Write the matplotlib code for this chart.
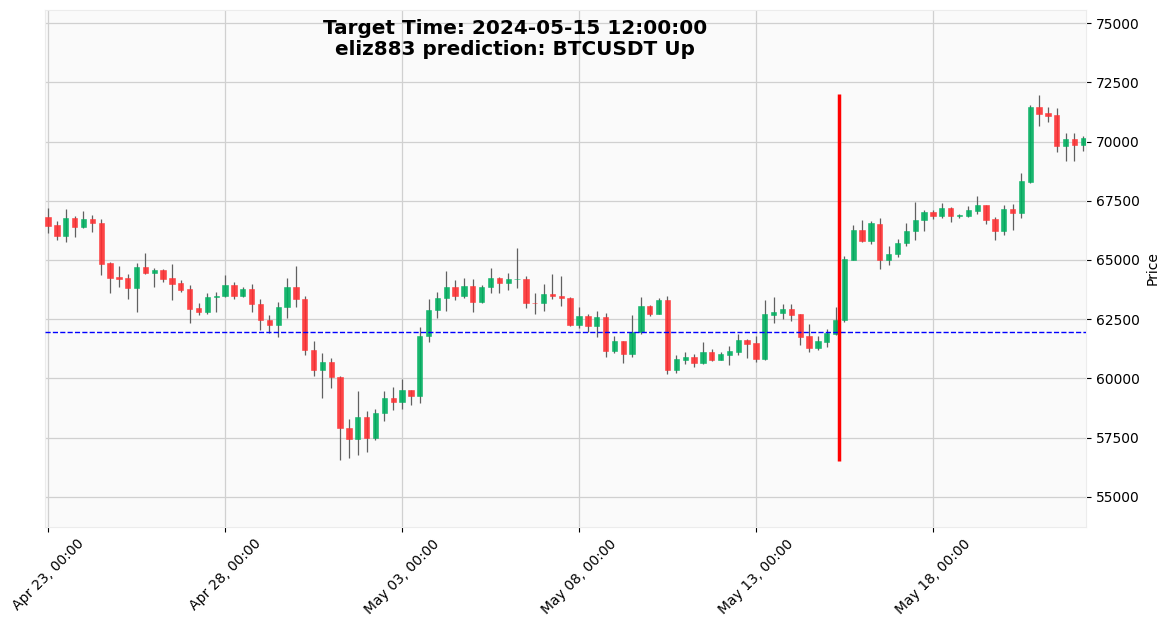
#!/usr/bin/env python3

import numpy as np
import pandas as pd
import matplotlib
matplotlib.use("Agg")
import matplotlib.pyplot as plt

OUTPUT_FNAME = "out.png"

title = "Target Time: 2024-05-15 12:00:00\neliz883 prediction: BTCUSDT Up"
start_time = "2024-04-23 00:00"

opens = [
    66822, 66483, 66031, 66780, 66413, 66738, 66568, 64874, 64281, 64238,
    63829, 64704, 64464, 64577, 64238, 64027, 63772, 62967, 62812, 63420,
    63466, 63959, 63466, 63790, 63157, 62481, 62242, 63002, 63874, 63368,
    61215, 60343, 60709, 60075, 57923, 57430, 58387, 57473, 58528, 59156,
    59016, 59508, 59269, 61771, 62871, 63379, 63872, 63463, 63914, 63209,
    63844, 64253, 64013, 64189, 64210, 63188, 63167, 63576, 63488, 63404,
    62274, 62641, 62232, 62585, 61173, 61582, 61046, 61949, 63065, 62740,
    63305, 60368, 60791, 60890, 60664, 61116, 60791, 61010, 61123, 61618,
    61477, 60826, 62694, 62778, 62934, 62722, 61788, 61264, 61547, 61887,
    62453, 65014, 66245, 65792, 66528, 64986, 65241, 65702, 66206, 66668,
    67032, 66836, 67200, 66836, 66864, 67074, 67312, 66738, 66234, 67144,
    66962, 68306, 71442, 71190, 71106, 69818, 70126, 69874,
]
highs = [
    67189, 66653, 67147, 66865, 67062, 66907, 66723, 64916, 64732, 64394,
    64860, 65297, 64648, 64605, 64831, 64154, 63942, 63165, 63617, 63631,
    64381, 64071, 63860, 63987, 63354, 62664, 63227, 64240, 64747, 63466,
    61581, 61074, 60863, 60118, 58289, 59470, 58640, 58725, 59470, 59620,
    59986, 59520, 62179, 63364, 63632, 64549, 64168, 64239, 64210, 63957,
    64662, 64300, 64464, 65508, 64337, 63604, 63985, 64408, 64336, 63420,
    63008, 62726, 62839, 62754, 61780, 61600, 62669, 63432, 63121, 63404,
    63488, 60975, 61116, 61032, 61540, 61243, 61116, 61363, 61859, 61646,
    61788, 63330, 63429, 63160, 63132, 62740, 62297, 61788, 62085, 63005,
    65170, 66457, 66698, 66627, 66783, 65580, 65891, 66556, 67438, 67130,
    67130, 67410, 67256, 66934, 67270, 67704, 67330, 66794, 67312, 67368,
    68656, 71526, 71974, 71470, 71428, 70378, 70350, 70252,
]
lows = [
    66159, 65834, 65749, 65961, 66370, 66201, 64351, 63589, 63843, 63349,
    62784, 64422, 63871, 64055, 63293, 63659, 62360, 62657, 62727, 62784,
    63440, 63354, 63424, 62805, 62059, 61919, 61750, 62552, 63002, 60976,
    60090, 59175, 59583, 56572, 56642, 56783, 56882, 57388, 58190, 58664,
    58692, 58875, 58974, 61547, 62533, 62843, 63294, 63378, 62800, 63181,
    63590, 63590, 63717, 63802, 62955, 62716, 62857, 63350, 63065, 62232,
    62119, 61978, 61738, 60890, 61060, 60636, 60890, 61865, 62641, 62720,
    60170, 60227, 60622, 60467, 60622, 60721, 60777, 60585, 61010, 60882,
    60698, 60797, 62326, 62524, 62425, 61392, 61123, 61194, 61321, 61816,
    62396, 64986, 65750, 65665, 64618, 64802, 65113, 65590, 65828, 66206,
    66738, 66766, 66598, 66766, 66822, 66934, 66500, 65842, 66038, 66262,
    66766, 68250, 70672, 70840, 69538, 69160, 69160, 69594,
]
closes = [
    66455, 66031, 66780, 66413, 66738, 66540, 64845, 64252, 64210, 63829,
    64690, 64464, 64577, 64210, 63998, 63730, 62939, 62812, 63433, 63480,
    63959, 63466, 63790, 63129, 62453, 62242, 63030, 63874, 63354, 61187,
    60343, 60709, 60047, 57895, 57430, 58387, 57473, 58556, 59170, 59016,
    59508, 59269, 61786, 62899, 63407, 63872, 63463, 63914, 63209, 63872,
    64253, 64013, 64210, 64203, 63167, 63174, 63576, 63463, 63375, 62274,
    62641, 62232, 62585, 61173, 61582, 61046, 61949, 63065, 62740, 63305,
    60368, 60820, 60890, 60664, 61116, 60791, 61032, 61151, 61618, 61448,
    60826, 62722, 62807, 62934, 62694, 61760, 61293, 61576, 61915, 62481,
    65042, 66245, 65792, 66557, 64986, 65269, 65736, 66234, 66696, 67032,
    66836, 67200, 66836, 66906, 67102, 67312, 66696, 66234, 67144, 66962,
    68334, 71442, 71162, 71078, 69818, 70126, 69874, 70168,
]

# prediction markers
entry_price = 61950
target_pos = 89.4
target_span = (56500, 72000)

yticks = np.arange(55000, 75001, 2500)


def plot():
    times = pd.date_range(start_time, periods=len(opens), freq="6h")
    o = np.array(opens)
    h = np.array(highs)
    l = np.array(lows)
    c = np.array(closes)
    idx = np.arange(len(o))

    fig = plt.figure(figsize=(11.69, 6.27), dpi=100)
    ax = fig.add_axes([0.0385, 0.1595, 0.8905, 0.8245])
    ax.set_facecolor("#fafafa")

    up = c >= o
    colors = np.where(up, "#00b060", "#fe3032")

    ax.vlines(idx, l, h, color="#606060", lw=0.9, zorder=2)
    ax.bar(idx, np.maximum(np.abs(c - o), 1), 0.6, bottom=np.minimum(o, c),
           color=colors, edgecolor=colors, linewidth=0.4, alpha=0.9, zorder=3)

    ax.axhline(entry_price, color="blue", ls="--", lw=1, zorder=4)
    ax.vlines(target_pos, *target_span, color="red", lw=2.5, zorder=5)

    ax.set_xlim(-0.35, len(o) - 0.7)
    ax.set_ylim(53730, 75550)

    ticks = idx[::20]
    ax.set_xticks(ticks, [t.strftime("%b %d, %H:%M") for t in times[ticks]],
                  rotation=45, ha="center")
    ax.set_yticks(yticks)
    ax.yaxis.tick_right()
    ax.yaxis.set_label_position("right")
    ax.set_ylabel("Price")
    ax.tick_params(labelsize=10)

    ax.grid(True, color="#d0d0d0", lw=0.9)
    ax.set_axisbelow(True)
    for s in ax.spines.values():
        s.set_color("#ececec")

    fig.text(0.4405, 0.938, title, ha="center", va="center",
             fontsize=14.4, fontweight="bold", linespacing=1.1)

    plt.savefig(OUTPUT_FNAME, dpi=100)


def main():
    plot()


if __name__ == "__main__":
    main()
